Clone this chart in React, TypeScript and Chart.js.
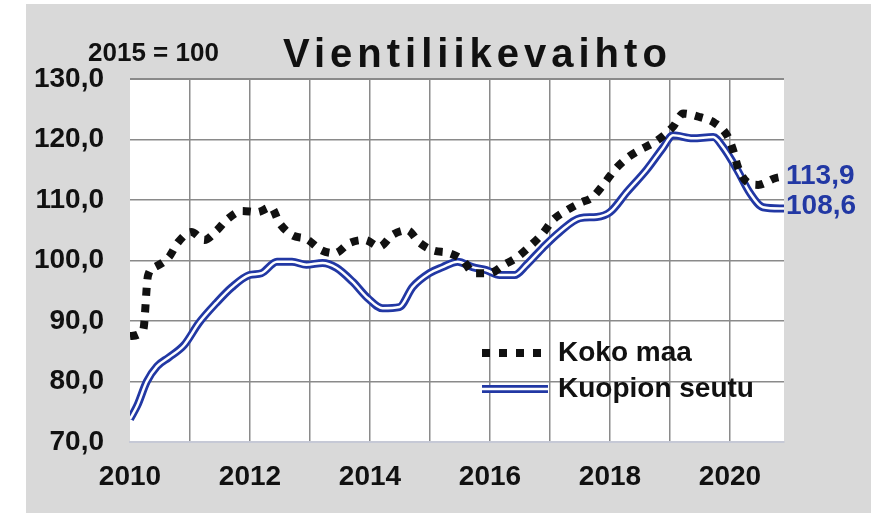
import React, { useEffect, useRef } from "react";
import { Chart, registerables } from "chart.js";

Chart.register(...registerables);

const TITLE = "Vientiliikevaihto";
const SUBTITLE = "2015 = 100";
const SERIES_NAMES = ["Koko maa", "Kuopion seutu"];

const yTicks = [70, 80, 90, 100, 110, 120, 130];
const xTickYears = [2010, 2011, 2012, 2013, 2014, 2015, 2016, 2017, 2018, 2019, 2020];

const kokoYears = [
  2010.0, 2010.22, 2010.3, 2010.43, 2010.65, 2010.8, 2011.02, 2011.24, 2011.45, 2011.62,
  2011.87, 2012.12, 2012.35, 2012.49, 2012.7, 2012.95, 2013.19, 2013.41, 2013.66, 2013.91,
  2014.16, 2014.37, 2014.62, 2014.82, 2015.04, 2015.33, 2015.54, 2015.74, 2015.99, 2016.24,
  2016.46, 2016.69, 2016.88, 2017.05, 2017.28, 2017.5, 2017.71, 2017.91, 2018.08, 2018.28,
  2018.5, 2018.75, 2019.05, 2019.22, 2019.5, 2019.75, 2019.95, 2020.05, 2020.13, 2020.28,
  2020.47, 2020.75, 2020.9,
];
const kokoValues = [
  87.5, 88.5, 97.5, 99.0, 100.6, 103.0, 104.7, 103.4, 105.0, 106.8,
  108.2, 108.0, 108.8, 106.2, 104.2, 103.5, 101.7, 101.2, 102.9, 103.4,
  102.3, 104.2, 105.0, 103.0, 101.7, 101.2, 100.1, 97.9, 97.9, 99.3,
  100.6, 102.6, 104.5, 106.7, 108.3, 109.5, 110.5, 112.8, 115.0, 116.9,
  118.3, 119.6, 122.1, 124.3, 123.7, 122.7, 120.7, 118.3, 115.5, 113.0,
  112.5, 113.6, 113.9,
];

const kuopioYears = [
  2010.0, 2010.12, 2010.28, 2010.45, 2010.65, 2010.9, 2011.15, 2011.44, 2011.7, 2011.99,
  2012.19, 2012.45, 2012.7, 2012.94, 2013.21, 2013.44, 2013.71, 2013.96, 2014.21, 2014.49,
  2014.71, 2014.99, 2015.21, 2015.46, 2015.71, 2015.94, 2016.16, 2016.41, 2016.61, 2016.88,
  2017.16, 2017.5, 2017.78, 2018.0, 2018.28, 2018.61, 2018.88, 2019.05, 2019.38, 2019.72,
  2019.88, 2020.12, 2020.33, 2020.55, 2020.83, 2020.9,
];
const kuopioValues = [
  73.8, 76.0, 80.0, 82.5, 84.0, 86.0, 89.7, 93.0, 95.6, 97.6,
  97.9, 99.8, 99.8, 99.3, 99.6, 98.8, 96.5, 93.8, 92.1, 92.3,
  95.6, 97.9, 98.9, 99.8, 98.9, 98.4, 97.6, 97.6, 99.3, 102.1,
  104.7, 107.0, 107.2, 108.0, 111.3, 115.0, 118.6, 120.7, 120.2, 120.4,
  118.8, 115.0, 111.2, 108.8, 108.6, 108.6,
];

const BLUE = "#2238a4";
const FONT = "'Liberation Sans', Arial, Helvetica, sans-serif";
const GRID = "#8a8a8a";

const fmt = (v: number) => v.toFixed(1).replace(".", ",");

const toPoints = (xs: number[], ys: number[]) => xs.map((x, i) => ({ x, y: ys[i] }));

const decorPlugin = {
  id: "decor",
  beforeDraw(chart: any) {
    const { ctx, chartArea } = chart;
    ctx.save();
    ctx.fillStyle = "#ffffff";
    ctx.fillRect(chartArea.left, chartArea.top, chartArea.right - chartArea.left, chartArea.bottom - chartArea.top);
    ctx.restore();
  },
  afterDraw(chart: any) {
    const { ctx, scales } = chart;
    const ys = scales.y;
    ctx.save();
    // title
    ctx.fillStyle = "#111111";
    ctx.font = `bold 40px ${FONT}`;
    (ctx as any).letterSpacing = "5px";
    ctx.textAlign = "left";
    ctx.textBaseline = "alphabetic";
    ctx.fillText(TITLE, 257, 63);
    (ctx as any).letterSpacing = "0px";
    // subtitle
    ctx.font = `bold 26px ${FONT}`;
    ctx.fillText(SUBTITLE, 62, 57);

    // end labels
    ctx.fillStyle = BLUE;
    ctx.font = `bold 28px ${FONT}`;
    ctx.textBaseline = "middle";
    const kLast = kokoValues[kokoValues.length - 1];
    const qLast = kuopioValues[kuopioValues.length - 1];
    ctx.fillText(fmt(kLast), 760, ys.getPixelForValue(kLast));
    ctx.fillText(fmt(qLast), 760, ys.getPixelForValue(qLast) - 2);

    // legend
    const lx0 = 456;
    const lx1 = 522;
    const ly0 = 349;
    const ly1 = 385;
    ctx.lineCap = "butt";
    ctx.strokeStyle = "#111111";
    ctx.lineWidth = 8;
    ctx.setLineDash([8, 9]);
    ctx.beginPath();
    ctx.moveTo(lx0, ly0);
    ctx.lineTo(lx1 + 2, ly0);
    ctx.stroke();
    ctx.setLineDash([]);
    ctx.strokeStyle = BLUE;
    ctx.lineWidth = 8;
    ctx.beginPath();
    ctx.moveTo(lx0, ly1);
    ctx.lineTo(lx1, ly1);
    ctx.stroke();
    ctx.strokeStyle = "#ffffff";
    ctx.lineWidth = 2.5;
    ctx.beginPath();
    ctx.moveTo(lx0, ly1);
    ctx.lineTo(lx1, ly1);
    ctx.stroke();

    ctx.fillStyle = "#111111";
    ctx.font = `bold 28px ${FONT}`;
    ctx.textBaseline = "middle";
    ctx.fillText(SERIES_NAMES[0], 532, ly0);
    ctx.fillText(SERIES_NAMES[1], 532, ly1);
    ctx.restore();
  },
};

export default function App() {
  const ref = useRef<HTMLCanvasElement>(null);

  useEffect(() => {
    document.body.style.margin = "0";
    const canvas = ref.current;
    if (!canvas) return;
    Chart.defaults.font.family = FONT;
    const kokoPts = toPoints(kokoYears, kokoValues);
    const kuopioPts = toPoints(kuopioYears, kuopioValues);
    const chart = new Chart(canvas, {
      type: "line",
      data: {
        datasets: [
          {
            label: SERIES_NAMES[0],
            data: kokoPts,
            borderColor: "#111111",
            borderWidth: 8,
            borderDash: [8, 8.5],
            borderCapStyle: "butt",
            pointRadius: 0,
            cubicInterpolationMode: "monotone",
            fill: false,
            order: 0,
          },
          {
            label: SERIES_NAMES[1] + " inner",
            data: kuopioPts,
            borderColor: "#ffffff",
            borderWidth: 2.5,
            pointRadius: 0,
            cubicInterpolationMode: "monotone",
            fill: false,
            order: 1,
          },
          {
            label: SERIES_NAMES[1],
            data: kuopioPts,
            borderColor: BLUE,
            borderWidth: 8,
            pointRadius: 0,
            cubicInterpolationMode: "monotone",
            fill: false,
            order: 2,
          },
        ],
      },
      options: {
        responsive: false,
        animation: false,
        devicePixelRatio: 1,
        layout: { padding: { top: 75, right: 87, left: 0, bottom: 0 } },
        plugins: {
          legend: { display: false },
          title: { display: false },
          tooltip: { enabled: false },
        },
        scales: {
          x: {
            type: "linear",
            min: xTickYears[0],
            max: 2020.9,
            afterFit: (s: any) => {
              s.height = 71;
            },
            afterBuildTicks: (s: any) => {
              s.ticks = xTickYears.map((v) => ({ value: v }));
            },
            ticks: {
              stepSize: 1,
              includeBounds: false,
              autoSkip: false,
              maxRotation: 0,
              padding: 18,
              color: "#111111",
              font: { size: 28, weight: "bold", family: FONT },
              callback: (v: any) => (Number(v) % 2 === 0 ? String(v) : ""),
            },
            grid: {
              drawTicks: false,
              lineWidth: 1.5,
              color: (c: any) => (c.tick && c.tick.value === xTickYears[0] ? "rgba(0,0,0,0)" : GRID),
            },
            border: { display: true, color: "#c6c9d6", width: 2 },
          },
          y: {
            min: yTicks[0],
            max: yTicks[yTicks.length - 1],
            afterFit: (s: any) => {
              s.width = 104;
            },
            afterBuildTicks: (s: any) => {
              s.ticks = yTicks.map((v) => ({ value: v }));
            },
            ticks: {
              stepSize: 10,
              padding: 26,
              color: "#111111",
              font: { size: 28, weight: "bold", family: FONT },
              callback: (v: any) => fmt(Number(v)),
            },
            grid: {
              drawTicks: false,
              lineWidth: (c: any) => (c.tick && c.tick.value === yTicks[yTicks.length - 1] ? 2 : 1.5),
              color: (c: any) => (c.tick && c.tick.value === yTicks[0] ? "rgba(0,0,0,0)" : GRID),
            },
            border: { display: false },
          },
        },
      },
      plugins: [decorPlugin],
    });
    return () => chart.destroy();
  }, []);

  return (
    <div style={{ position: "relative", width: 882, height: 513, background: "#ffffff", overflow: "hidden" }}>
      <div style={{ position: "absolute", left: 26, top: 4, width: 845, height: 509, background: "#d9d9d9" }}>
        <canvas ref={ref} width={845} height={509} style={{ display: "block", width: 845, height: 509 }} />
      </div>
    </div>
  );
}
